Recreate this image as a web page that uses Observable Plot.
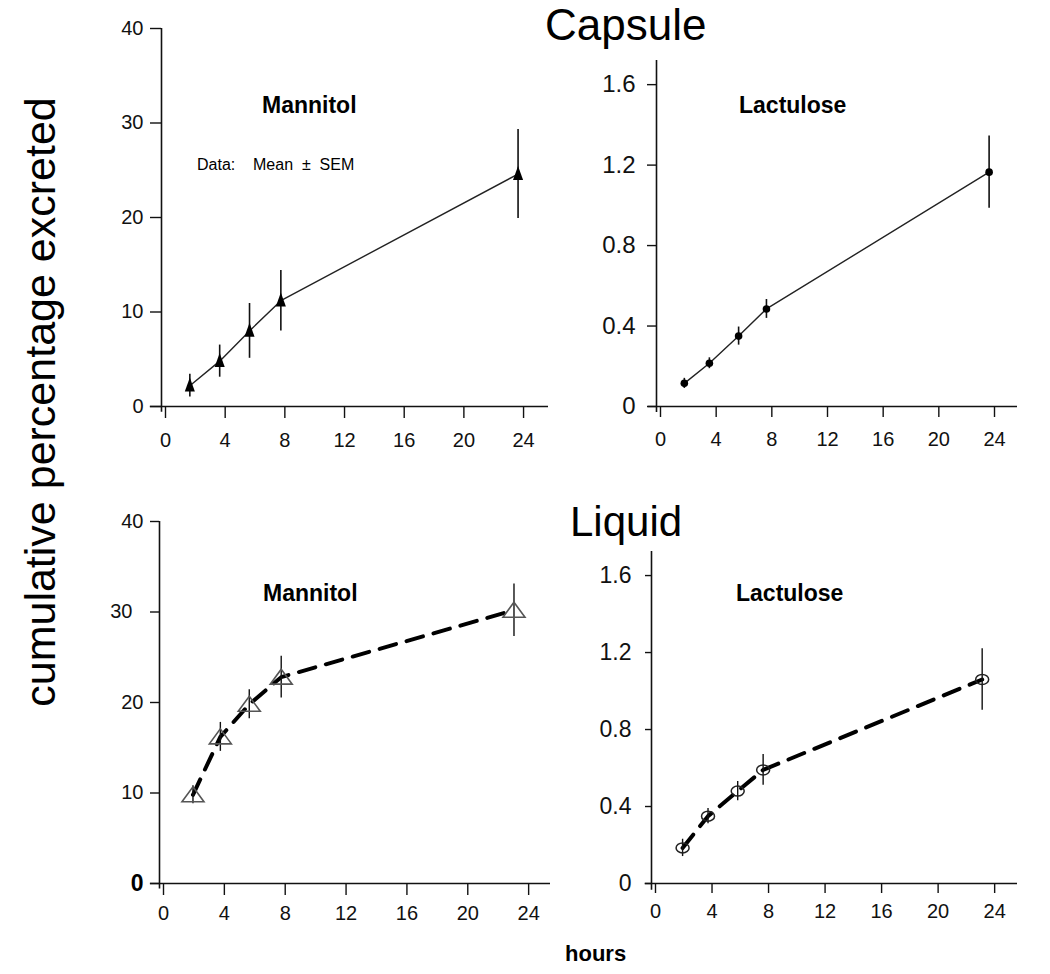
<!DOCTYPE html>
<html>
<head>
<meta charset="utf-8">
<script src="https://cdn.jsdelivr.net/npm/d3@7"></script>
<script src="https://cdn.jsdelivr.net/npm/@observablehq/plot@0.6"></script>
<style>
  html, body { margin: 0; padding: 0; background: #fff; }
  #root { position: relative; width: 1050px; height: 974px; overflow: hidden; background: #fff;
          font-family: "Liberation Sans", Arial, sans-serif; color: #000; }
  .panel { position: absolute; }
  .lbl { position: absolute; line-height: 1; white-space: pre; }
</style>
</head>
<body>
<div id="root"></div>
<script>
// ---------- data ----------
const hourTicks = [0, 4, 8, 12, 16, 20, 24];
const mannitolTicks = [0, 10, 20, 30, 40];
const lactuloseTicks = [0, 0.4, 0.8, 1.2, 1.6];

const hoursCapsuleMannitol = [1.9, 3.9, 5.9, 8, 23.9];
const capsuleMannitol = [2.2, 4.8, 8.0, 11.2, 24.6];
const capsuleMannitolSEM = [1.2, 1.7, 2.9, 3.2, 4.7];

const hoursCapsuleLactulose = [2, 3.8, 5.9, 7.9, 23.9];
const capsuleLactulose = [0.115, 0.215, 0.35, 0.485, 1.165];
const capsuleLactuloseSEM = [0.025, 0.027, 0.045, 0.047, 0.18];

const hoursLiquidMannitol = [2.2, 4, 5.9, 8, 23.3];
const liquidMannitol = [9.8, 16.2, 19.8, 22.8, 30.2];
const liquidMannitolSEM = [1.0, 1.6, 1.6, 2.3, 2.9];

const hoursLiquidLactulose = [2.2, 4, 6.1, 7.9, 23.4];
const liquidLactulose = [0.185, 0.35, 0.48, 0.59, 1.06];
const liquidLactuloseSEM = [0.045, 0.04, 0.05, 0.08, 0.16];

// ---------- helpers ----------
const FONT = '"Liberation Sans", Arial, sans-serif';
function rows(h, v, s) { return h.map((x, i) => ({x, y: v[i], lo: v[i] - s[i], hi: v[i] + s[i]})); }

const narrowTriangle = {draw(ctx, size) { const r = Math.sqrt(size / Math.PI);
  ctx.moveTo(0, -1.45 * r); ctx.lineTo(0.9 * r, 1.05 * r); ctx.lineTo(-0.9 * r, 1.05 * r); ctx.closePath(); }};
const wideTriangle = {draw(ctx, size) { const r = Math.sqrt(size / Math.PI);
  ctx.moveTo(0, -1.6 * r); ctx.lineTo(2.2 * r, 1.4 * r); ctx.lineTo(-2.2 * r, 1.4 * r); ctx.closePath(); }};
const flatEllipse = {draw(ctx, size) { const r = Math.sqrt(size / Math.PI);
  const rx = 1.3 * r, ry = r, k = 0.5523;
  ctx.moveTo(rx, 0);
  ctx.bezierCurveTo(rx, ry * k, rx * k, ry, 0, ry);
  ctx.bezierCurveTo(-rx * k, ry, -rx, ry * k, -rx, 0);
  ctx.bezierCurveTo(-rx, -ry * k, -rx * k, -ry, 0, -ry);
  ctx.bezierCurveTo(rx * k, -ry, rx, -ry * k, rx, 0);
  ctx.closePath(); }};

function frameMarks(o) {
  return [
    Plot.ruleY([0], {x1: -o.xExt, x2: o.xEnd, stroke: "#111", strokeWidth: 1.6}),
    Plot.ruleX([0], {y1: -o.yExt, y2: o.yTop, stroke: "#111", strokeWidth: 1.6}),
    Plot.axisX({ticks: hourTicks, tickSize: o.xTickSize, tickPadding: o.xPad, fontSize: 20, dx: 4,
                label: null, stroke: "#111", strokeWidth: 1.4, fill: "#111"})
  ];
}

function makePanel(o, marks) {
  const wrap = document.createElement("div");
  wrap.className = "panel";
  wrap.style.left = o.left + "px"; wrap.style.top = o.top + "px";
  wrap.style.width = o.width + "px"; wrap.style.height = o.height + "px";
  const chart = Plot.plot({
    width: o.width, height: o.height,
    marginLeft: o.ml, marginRight: o.mr, marginTop: o.mt, marginBottom: o.mb,
    x: {domain: [0, o.xEnd]},
    y: {domain: [0, o.yTop]},
    style: {fontFamily: FONT, background: "transparent", overflow: "visible", color: "#111"},
    marks: [...frameMarks(o), ...marks]
  });
  wrap.appendChild(chart);
  document.getElementById("root").appendChild(wrap);
}

// ---------- Capsule / Mannitol ----------
const cm = rows(hoursCapsuleMannitol, capsuleMannitol, capsuleMannitolSEM);
makePanel({left: 0, top: 0, width: 560, height: 470, ml: 161, mr: 12, mt: 28, mb: 64,
           xEnd: 25.94, yTop: 40, xExt: 0.75, yExt: 0.6, xTickSize: 12, xPad: 14}, [
  Plot.axisY({ticks: mannitolTicks, tickSize: 11, tickPadding: 7, fontSize: 20, label: null,
              strokeWidth: 1.4, fill: "#111"}),
  Plot.line(cm, {x: "x", y: "y", stroke: "#222", strokeWidth: 1.4}),
  Plot.ruleX(cm, {x: "x", y1: "lo", y2: "hi", stroke: "#111", strokeWidth: 1.6}),
  Plot.dot(cm, {x: "x", y: "y", r: 5.6, symbol: narrowTriangle, fill: "#000", stroke: "none"})
]);

// ---------- Capsule / Lactulose ----------
const cl = rows(hoursCapsuleLactulose, capsuleLactulose, capsuleLactuloseSEM);
makePanel({left: 560, top: 0, width: 490, height: 470, ml: 96, mr: 33, mt: 60, mb: 64,
           xEnd: 25.94, yTop: 1.72, xExt: 0.6, yExt: 0.03, xTickSize: 11, xPad: 14}, [
  Plot.axisY({ticks: lactuloseTicks, tickSize: 9, tickPadding: 12, fontSize: 24, label: null,
              tickFormat: d => d === 0 ? "0" : d.toFixed(1), strokeWidth: 1.4, fill: "#111"}),
  Plot.line(cl, {x: "x", y: "y", stroke: "#222", strokeWidth: 1.4}),
  Plot.ruleX(cl, {x: "x", y1: "lo", y2: "hi", stroke: "#111", strokeWidth: 1.6}),
  Plot.dot(cl, {x: "x", y: "y", r: 3.8, fill: "#000", stroke: "none"})
]);

// ---------- Liquid / Mannitol ----------
const lm = rows(hoursLiquidMannitol, liquidMannitol, liquidMannitolSEM);
makePanel({left: 0, top: 480, width: 560, height: 470, ml: 159, mr: 10, mt: 41, mb: 67,
           xEnd: 25.7, yTop: 40, xExt: 0.6, yExt: 0.6, xTickSize: 12, xPad: 10}, [
  Plot.axisY({ticks: [10, 20, 30, 40], tickSize: 9, tickPadding: 7, fontSize: 20, label: null,
              tickFormat: d => d === 30 ? "30\u00a0\u00a0" : String(d), strokeWidth: 1.4, fill: "#111"}),
  Plot.axisY({ticks: [0], tickSize: 9, tickPadding: 7, fontSize: 23, fontWeight: "bold", label: null,
              strokeWidth: 1.4, fill: "#000"}),
  Plot.line(lm, {x: "x", y: "y", stroke: "#000", strokeWidth: 4, strokeDasharray: "17,11"}),
  Plot.ruleX(lm, {x: "x", y1: "lo", y2: "hi", stroke: "#111", strokeWidth: 1.4}),
  Plot.dot(lm, {x: "x", y: "y", r: 5, symbol: wideTriangle, fill: "none", stroke: "#555", strokeWidth: 1.6})
]);

// ---------- Liquid / Lactulose ----------
const ll = rows(hoursLiquidLactulose, liquidLactulose, liquidLactuloseSEM);
makePanel({left: 560, top: 480, width: 490, height: 470, ml: 91, mr: 33, mt: 71, mb: 67,
           xEnd: 25.9, yTop: 1.725, xExt: 0.45, yExt: 0.035, xTickSize: 10, xPad: 10}, [
  Plot.axisY({ticks: lactuloseTicks, tickSize: 6, tickPadding: 14, fontSize: 23, label: null,
              tickFormat: d => d === 0 ? "0" : d.toFixed(1), strokeWidth: 1.4, fill: "#111"}),
  Plot.line(ll, {x: "x", y: "y", stroke: "#000", strokeWidth: 4, strokeDasharray: "17,11"}),
  Plot.ruleX(ll, {x: "x", y1: "lo", y2: "hi", stroke: "#111", strokeWidth: 1.4}),
  Plot.dot(ll, {x: "x", y: "y", r: 5, symbol: flatEllipse, fill: "none", stroke: "#222", strokeWidth: 1.5})
]);

// ---------- text labels ----------
function label(text, left, baseline, size, weight, extra) {
  const d = document.createElement("div");
  d.className = "lbl";
  d.textContent = text;
  d.style.left = left + "px";
  d.style.top = (baseline - 0.8465 * size) + "px";
  d.style.fontSize = size + "px";
  if (weight) d.style.fontWeight = weight;
  if (extra) Object.assign(d.style, extra);
  document.getElementById("root").appendChild(d);
  return d;
}
label("Capsule", 545, 40, 44);
label("Liquid", 570, 537, 42);
label("Mannitol", 262, 113, 23, "bold");
label("Lactulose", 739, 113, 23, "bold");
label("Mannitol", 263, 601, 23, "bold");
label("Lactulose", 736, 601, 23, "bold");
label("Data:    Mean  \u00b1  SEM", 197, 171, 16);
label("hours", 565, 962, 22, "bold");

const yt = document.createElement("div");
yt.className = "lbl";
yt.textContent = "cumulative percentage excreted";
Object.assign(yt.style, {left: "40px", top: "402px", fontSize: "43px",
  transform: "translate(-50%, -50%) rotate(-90deg)"});
document.getElementById("root").appendChild(yt);
</script>
</body>
</html>
